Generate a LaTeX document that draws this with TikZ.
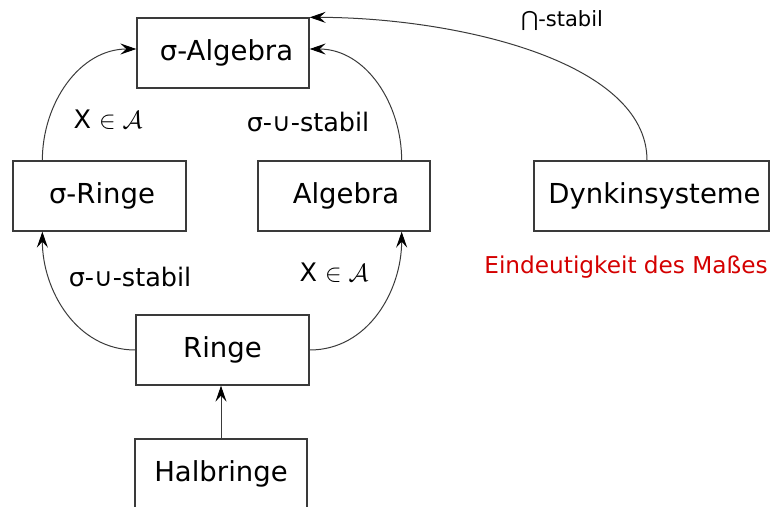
\documentclass[tikz,border=0pt]{standalone}
\usepackage{fontspec}
\setmainfont{DejaVu Sans}
\usetikzlibrary{arrows.meta}
\definecolor{edgegray}{HTML}{3A3A3A}
\definecolor{note}{HTML}{D40000}
\tikzset{
  setbox/.style={draw=edgegray, line width=1.3pt, minimum width=172pt, minimum height=70pt,
    inner sep=0pt, font=\fontsize{27.5}{32}\selectfont},
  link/.style={draw=edgegray, line width=1pt,
    -{Stealth[length=16pt,width=11pt,inset=6pt,color=black]}},
  lbl/.style={font=\fontsize{25.5}{30}\selectfont, inner sep=0pt},
  smalllbl/.style={font=\fontsize{21}{25}\selectfont, inner sep=0pt},
  notelbl/.style={font=\fontsize{23.2}{27}\selectfont, text=note, inner sep=0pt}
}
\begin{document}
\begin{tikzpicture}[x=1pt,y=-1pt]
  \useasboundingbox (0,0) rectangle (770,506);
  \clip (0,0) rectangle (770,506);

  % set systems
  \node[setbox] (sa) at (223,53) {\hspace*{7pt}σ-Algebra};
  \node[setbox, minimum width=173pt] (sr) at (99.5,196) {\hspace*{5pt}σ-Ringe};
  \node[setbox] (al) at (344,196) {\hspace*{4pt}Algebra};
  \node[setbox, minimum width=235pt] (dk) at (651.5,196) {\hspace*{6pt}Dynkinsysteme};
  \node[setbox, minimum width=173pt] (ri) at (222.5,350) {Ringe};
  \node[setbox] (hb) at (221,474) {Halbringe};

  % attachment points on the box edges
  \coordinate (srtop) at ([xshift=30pt]sr.north west);
  \coordinate (srbot) at ([xshift=30pt]sr.south west);
  \coordinate (altop) at ([xshift=-29pt]al.north east);
  \coordinate (albot) at ([xshift=-29pt]al.south east);
  \coordinate (dktop) at ([xshift=-4.5pt]dk.north);
  \coordinate (saw) at ([yshift=4pt]sa.west);
  \coordinate (sae) at ([yshift=4pt]sa.east);

  % inclusions
  \draw[link] (srtop) to[out=90,in=180] (saw);
  \draw[link] (altop) to[out=90,in=0] (sae);
  \draw[link] (dktop) .. controls +(0,-101) and +(141,0) .. (sa.north east);
  \draw[link] (ri.west) to[out=180,in=270] (srbot);
  \draw[link] (ri.east) to[out=0,in=270] (albot);
  \draw[link] (hb.north) -- (hb.north |- ri.south);

  % conditions
  \node[lbl] (l1) at (108,120) {X $\in\mathcal{A}$};
  \node[lbl] (l2) at (308,122) {σ-∪-stabil};
  \node[lbl] (l3) at (130,277) {σ-∪-stabil};
  \node[lbl] (l4) at (334,273) {X $\in\mathcal{A}$};
  \node[smalllbl] (l5) at (562,21) {⋂-stabil};
  \node[notelbl] (l6) at (626,267) {Eindeutigkeit des Maßes};
\end{tikzpicture}
\end{document}
